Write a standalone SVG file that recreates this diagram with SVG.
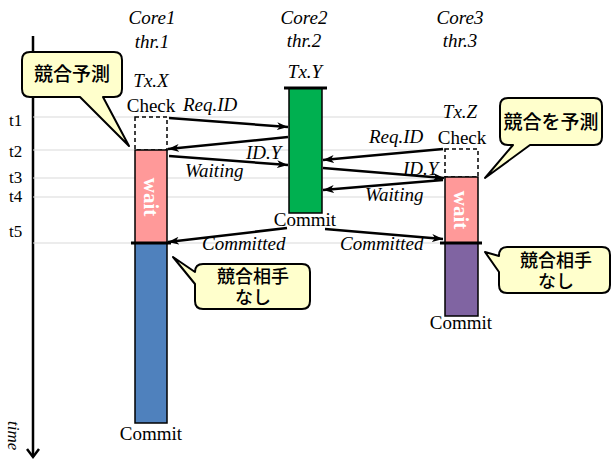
<svg xmlns="http://www.w3.org/2000/svg" width="612" height="461" viewBox="0 0 612 461">
  <style>
    .it { font-family: "Liberation Serif", "Times New Roman", "DejaVu Serif", serif; font-style: italic; font-size: 19px; fill: #000; }
    .rm { font-family: "Liberation Serif", "Times New Roman", "DejaVu Serif", serif; font-size: 19px; fill: #000; }
    .tl { font-family: "Liberation Serif", "Times New Roman", "DejaVu Serif", serif; font-size: 17px; fill: #000; }
    .jp { font-family: "Noto Sans CJK JP", "Noto Sans CJK SC", sans-serif; font-size: 18px; font-weight: 500; fill: #000; }
    .wait { font-family: "Liberation Serif", "Times New Roman", "DejaVu Serif", serif; font-weight: bold; font-size: 21px; fill: #fff; }
    .guide { stroke: #d9d9d9; stroke-width: 1; }
    .bar { stroke: #000; stroke-width: 1.5; }
    .check { fill: #fff; stroke: #000; stroke-width: 1.5; stroke-dasharray: 4 3; }
    .msg { stroke: #000; stroke-width: 2.5; fill: none; marker-end: url(#head); }
    .callout { fill: #ffffcc; stroke: #000; stroke-width: 2; stroke-linejoin: round; }
    .edge { stroke: #000; stroke-width: 3; }
  </style>
  <defs>
    <marker id="head" markerUnits="userSpaceOnUse" markerWidth="12" markerHeight="10" refX="11" refY="4" orient="auto">
      <path d="M0,0 L11,4 L0,8 L3,4 z" fill="#000"/>
    </marker>
  </defs>

  <!-- time axis -->
  <g id="time-axis">
    <line x1="33" y1="36" x2="33" y2="457" stroke="#000" stroke-width="2.5"/>
    <polyline points="27,449 33,457 39,449" fill="none" stroke="#000" stroke-width="2.5"/>
    <text class="it" transform="translate(8,421) rotate(90)" style="font-size:17px">time</text>
  </g>

  <!-- time marks -->
  <g id="time-marks">
    <line class="guide" x1="33" y1="117" x2="445" y2="117"/>
    <line class="guide" x1="33" y1="150" x2="445" y2="150"/>
    <line class="guide" x1="33" y1="178" x2="445" y2="178"/>
    <line class="guide" x1="33" y1="197" x2="445" y2="197"/>
    <line class="guide" x1="33" y1="243" x2="445" y2="243"/>
    <text class="tl" x="9" y="126">t1</text>
    <text class="tl" x="9" y="157">t2</text>
    <text class="tl" x="9" y="183">t3</text>
    <text class="tl" x="9" y="202">t4</text>
    <text class="tl" x="9" y="237">t5</text>
  </g>

  <!-- Core1 / thread 1 -->
  <g id="core1">
    <text class="it" x="152" y="24" text-anchor="middle">Core1</text>
    <text class="it" x="152" y="48" text-anchor="middle">thr.1</text>
    <text class="it" x="151" y="87" text-anchor="middle">Tx.X</text>
    <text class="rm" x="151" y="112" text-anchor="middle">Check</text>
    <rect class="check" x="135" y="117" width="32" height="33"/>
    <rect class="bar" x="135" y="150" width="32" height="93" fill="#ff9999"/>
    <text class="wait" transform="translate(144,197) rotate(90)" text-anchor="middle">wait</text>
    <rect class="bar" x="135" y="243" width="32" height="180" fill="#4f81bd"/>
    <line class="edge" x1="131" y1="243" x2="171" y2="243"/>
    <text class="rm" x="151" y="440" text-anchor="middle">Commit</text>
  </g>

  <!-- Core2 / thread 2 -->
  <g id="core2">
    <text class="it" x="304" y="24" text-anchor="middle">Core2</text>
    <text class="it" x="304" y="47" text-anchor="middle">thr.2</text>
    <text class="it" x="305" y="78" text-anchor="middle">Tx.Y</text>
    <rect class="bar" x="289" y="88" width="33" height="125" fill="#00b050"/>
    <line class="edge" x1="284" y1="88" x2="327" y2="88"/>
    <text class="rm" x="305" y="226" text-anchor="middle">Commit</text>
  </g>

  <!-- Core3 / thread 3 -->
  <g id="core3">
    <text class="it" x="460" y="24" text-anchor="middle">Core3</text>
    <text class="it" x="460" y="47" text-anchor="middle">thr.3</text>
    <text class="it" x="460" y="118" text-anchor="middle">Tx.Z</text>
    <text class="rm" x="462" y="144" text-anchor="middle">Check</text>
    <rect class="check" x="445" y="149" width="33" height="28"/>
    <rect class="bar" x="445" y="177" width="33" height="66" fill="#ff9999"/>
    <text class="wait" transform="translate(454,210) rotate(90)" text-anchor="middle">wait</text>
    <rect class="bar" x="445" y="243" width="33" height="73" fill="#8064a2"/>
    <line class="edge" x1="440" y1="243" x2="482" y2="243"/>
    <text class="rm" x="461" y="329" text-anchor="middle">Commit</text>
  </g>

  <!-- messages between threads -->
  <g id="connectors">
    <line class="msg" x1="169" y1="118" x2="288" y2="127"/>
    <line class="msg" x1="288" y1="137" x2="168" y2="149"/>
    <line class="msg" x1="169" y1="156" x2="288" y2="165"/>
    <line class="msg" x1="443" y1="149" x2="323" y2="160"/>
    <line class="msg" x1="323" y1="168" x2="444" y2="178"/>
    <line class="msg" x1="443" y1="180" x2="323" y2="190"/>
    <line class="msg" x1="287" y1="228" x2="168" y2="242"/>
    <line class="msg" x1="325" y1="229" x2="443" y2="239"/>
    <text class="it" x="183" y="111">Req.ID</text>
    <text class="it" x="246" y="159">ID.Y</text>
    <text class="it" x="185" y="177">Waiting</text>
    <text class="it" x="369" y="143">Req.ID</text>
    <text class="it" x="403" y="175">ID.Y</text>
    <text class="it" x="365" y="201">Waiting</text>
    <text class="it" x="202" y="250">Committed</text>
    <text class="it" x="340" y="250">Committed</text>
  </g>

  <!-- callouts -->
  <g id="callout-predict1">
    <path class="callout" d="M30,52 H114 Q122,52 122,60 V89 Q122,97 114,97 H103 L129,146 L80,97 H30 Q22,97 22,89 V60 Q22,52 30,52 Z"/>
    <text class="jp" x="72" y="81" text-anchor="middle" style="font-size:19px">競合予測</text>
  </g>
  <g id="callout-predict3">
    <path class="callout" d="M508,98 H594 Q602,98 602,106 V137 Q602,145 594,145 H530 L485,178 L513,145 H508 Q500,145 500,137 V106 Q500,98 508,98 Z"/>
    <text class="jp" x="551" y="129" text-anchor="middle" style="font-size:19px">競合を予測</text>
  </g>
  <g id="callout-none1">
    <path class="callout" d="M203,264 H302 Q310,264 310,272 V301 Q310,309 302,309 H203 Q195,309 195,301 V284 L173,257 L195,272 Q195,264 203,264 Z"/>
    <text class="jp" x="253" y="283" text-anchor="middle">競合相手</text>
    <text class="jp" x="253" y="304" text-anchor="middle">なし</text>
  </g>
  <g id="callout-none3">
    <path class="callout" d="M507,247 H602 Q610,247 610,255 V285 Q610,293 602,293 H507 Q499,293 499,285 V272 L485,252 L499,256 Q499,247 507,247 Z"/>
    <text class="jp" x="556" y="267" text-anchor="middle">競合相手</text>
    <text class="jp" x="556" y="288" text-anchor="middle">なし</text>
  </g>
</svg>
